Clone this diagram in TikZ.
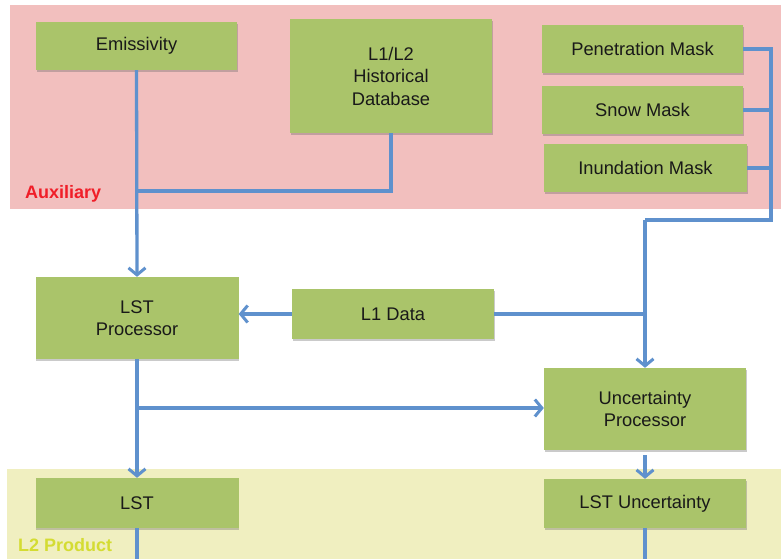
\documentclass[tikz,border=0pt]{standalone}
\usepackage{fontspec}
\setmainfont{Liberation Sans}
\usetikzlibrary{arrows.meta,shadows}
\definecolor{bandpink}{RGB}{242,191,190}
\definecolor{bandyellow}{RGB}{240,239,192}
\definecolor{boxgreen}{RGB}{170,196,106}
\definecolor{lineblue}{RGB}{95,145,205}
\definecolor{auxred}{RGB}{240,30,40}
\definecolor{prodyellow}{RGB}{212,220,50}
\tikzset{
  box/.style={fill=boxgreen, draw=none, minimum width=#1, inner sep=2pt, align=center,
    font=\fontsize{18.3}{22.5}\selectfont, text=black!90,
    drop shadow={shadow xshift=0.5pt, shadow yshift=-2pt, opacity=0.35, fill=black!60}},
  box/.default=201pt,
  conn/.style={draw=lineblue, line width=3.3pt},
  arr/.style={conn, -{Straight Barb[length=7pt,width=17pt,line width=3pt]}},
  bandlabel/.style={font=\fontsize{18}{20}\selectfont\bfseries, anchor=west, inner sep=0pt}
}
\begin{document}
\begin{tikzpicture}[x=1pt,y=-1pt]
\useasboundingbox (0,0) rectangle (781,559);
% bands
\fill[bandpink] (10,5) rectangle (781,209);
\fill[bandyellow] (7,469) rectangle (781,559);
\node[bandlabel, text=auxred] (auxlbl) at (25,194) {Auxiliary};
\node[bandlabel, text=prodyellow] (prodlbl) at (18,545) {L2 Product};
% boxes
\node[box=201pt, minimum height=48pt] (emis) at (136.5,46) {Emissivity};
\node[box=202pt, minimum height=114pt] (hist) at (391,76) {L1/L2\\Historical\\Database};
\node[box=201pt, minimum height=48pt] (pen) at (642.5,49) {Penetration Mask};
\node[box=201pt, minimum height=48pt] (snow) at (642.5,110) {Snow Mask};
\node[box=203pt, minimum height=48pt] (inun) at (645.5,168) {Inundation Mask};
\node[box=203pt, minimum height=82pt] (lstp) at (137,318) {LST\\Processor};
\node[box=202pt, minimum height=50pt] (l1) at (393,314) {L1 Data};
\node[box=202pt, minimum height=82pt] (unc) at (645,409) {Uncertainty\\Processor};
\node[box=203pt, minimum height=50pt] (lst) at (137,503) {LST};
\node[box=202pt, minimum height=49pt] (lstu) at (645,503.5) {LST Uncertainty};
% junction coordinates
\coordinate (j1) at (137,191);
\coordinate (rx) at (771,49);
\coordinate (rdown) at (771,220);
\coordinate (rleft) at (645,220);
\coordinate (j2) at (645,314);
\coordinate (j3) at (137,408);
\coordinate (bl) at (137,559);
\coordinate (br) at (645,559);
% connectors
\draw[arr] (emis.south) -- (lstp.north);
\draw[conn] (hist.south) |- (j1);
\draw[conn] (pen.east) -- (rx) -- (rdown) -- (rleft);
\draw[conn] (snow.east) -- (snow.east -| rx);
\draw[conn] (inun.east) -- (inun.east -| rx);
\draw[arr] (rleft) -- (unc.north);
\draw[arr] (l1.west) -- (lstp.east |- l1.west);
\draw[conn] (l1.east) -- (j2);
\draw[arr] (lstp.south) -- (lst.north);
\draw[arr] (j3) -- (unc.west |- j3);
\draw[arr, shorten <=5pt] (unc.south) -- (lstu.north);
\draw[conn] (lst.south) -- (bl);
\draw[conn] (lstu.south) -- (br);
\end{tikzpicture}
\end{document}
